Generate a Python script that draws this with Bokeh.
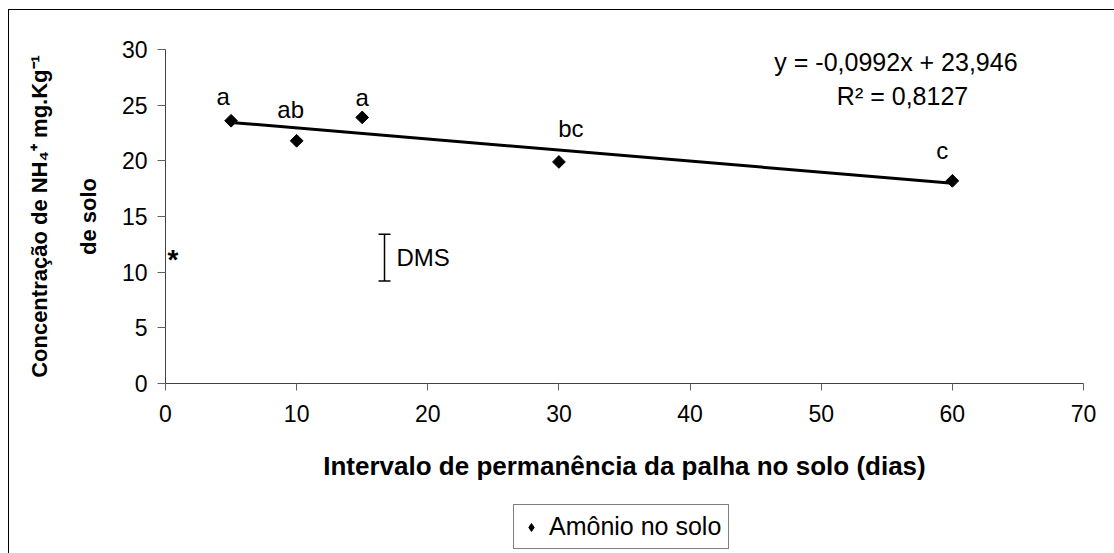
import numpy as np
from bokeh.plotting import figure
from bokeh.layouts import column, row
from bokeh.models import (Range1d, FixedTicker, Label, Legend, LegendItem, Whisker,
                          ColumnDataSource, TeeHead, Title)
from bokeh.embed import file_html
from bokeh.resources import INLINE
from bokeh.core.properties import value

# Soil ammonium after straw residence interval
days = [5, 10, 15, 30, 60]
ammonium = [23.6, 21.8, 23.9, 19.9, 18.2]
letters = ["a", "ab", "a", "bc", "c"]

# Linear fit reported for the series
slope = -0.0992
intercept = 23.946
r_squared = 0.8127

# Least significant difference bar
dms_day = 16.7
dms_low = 9.2
dms_high = 13.4

x_ticks = [0, 10, 20, 30, 40, 50, 60, 70]
y_ticks = [0, 5, 10, 15, 20, 25, 30]

FONT = "Liberation Sans"
W, H = 1114, 553
OFF_X, OFF_Y = 9, 10           # content starts inside a 1 px frame line at x=8, y=9
BOX_L, BOX_R, BOX_T, BOX_B = 165, 1083, 49, 383   # page pixels of the data box
MAIN_H = 483
KEY_H = H - OFF_Y - MAIN_H

# ---------------- main plot ----------------
p = figure(width=W - OFF_X, height=MAIN_H, x_range=Range1d(0, 70), y_range=Range1d(0, 30),
           output_backend="svg", toolbar_location=None,
           min_border_left=BOX_L - OFF_X, min_border_right=W - BOX_R,
           min_border_top=BOX_T - OFF_Y, min_border_bottom=OFF_Y + MAIN_H - BOX_B)
p.xgrid.visible = False
p.ygrid.visible = False
p.outline_line_color = None
p.background_fill_color = "white"
p.border_fill_color = "white"

for ax in (p.xaxis[0], p.yaxis[0]):
    ax.axis_line_color = "#404040"
    ax.axis_line_width = 1
    ax.major_tick_line_color = "#606060"
    ax.major_tick_in = 0
    ax.minor_tick_line_color = None
    ax.major_label_text_font = FONT
    ax.major_label_text_font_size = "23px"
    ax.major_label_text_color = "black"
p.xaxis.ticker = FixedTicker(ticks=x_ticks)
p.yaxis.ticker = FixedTicker(ticks=y_ticks)
p.xaxis.major_tick_out = 7
p.yaxis.major_tick_out = 8
p.xaxis.major_label_standoff = 14
p.yaxis.major_label_standoff = 10

p.xaxis.axis_label = "Intervalo de permanência da palha no solo (dias)"
p.xaxis.axis_label_text_font = FONT
p.xaxis.axis_label_text_font_style = "bold"
p.xaxis.axis_label_text_font_size = "26px"
p.xaxis.axis_label_text_color = "black"
p.xaxis.axis_label_standoff = 26

# y-axis title, two lines (inner line added first)
p.add_layout(Title(text="de solo", align="center", standoff=36, offset=7,
                   text_font=FONT, text_font_style="bold", text_font_size="22px",
                   text_color="black"), "left")
p.add_layout(Title(text="Concentração de NH₄⁺ mg.Kg⁻¹", align="center", standoff=8,
                   offset=28, text_font=FONT, text_font_style="bold",
                   text_font_size="22px", text_color="black"), "left")

# trend line from the fitted equation
xs = np.array([days[0], days[-1]], dtype=float)
p.line(xs, slope * xs + intercept, line_color="black", line_width=3)

p.scatter(days, ammonium, marker="square", angle=np.pi / 4, size=9,
          fill_color="black", line_color="black")

# significance letters
p.text(x=days, y=ammonium, text=letters,
       x_offset=[-8, -6, 0, 12, -10], y_offset=[-24, -31, -20, -33, -30],
       text_align="center", text_baseline="middle",
       text_font=value(FONT), text_font_size="24px", text_color="black")

# DMS bar
dms_src = ColumnDataSource(dict(base=[dms_day], lower=[dms_low], upper=[dms_high]))
p.add_layout(Whisker(source=dms_src, base="base", lower="lower", upper="upper",
                     dimension="height", line_color="black", line_width=1.5,
                     upper_head=TeeHead(size=12, line_color="black", line_width=1.5),
                     lower_head=TeeHead(size=12, line_color="black", line_width=1.5)))
p.add_layout(Label(x=dms_day, y=(dms_low + dms_high) / 2, text="DMS", x_offset=12,
                   text_baseline="middle", text_font=FONT, text_font_size="24px",
                   text_color="black"))
p.add_layout(Label(x=0, y=(dms_low + dms_high) / 2, text="*", x_offset=2, y_offset=-2,
                   text_baseline="middle", text_font=FONT, text_font_style="bold",
                   text_font_size="28px", text_color="black"))

# regression equation
eq_text = f"y = {slope:.4f}x + {intercept:.3f}".replace(".", ",")
r2_text = f"R² = {r_squared:.4f}".replace(".", ",")
p.add_layout(Label(x=55.7, y=28.9, text=eq_text, text_align="center", text_baseline="middle",
                   text_font=FONT, text_font_size="25px", text_color="black"))
p.add_layout(Label(x=56.2, y=25.8, text=r2_text, text_align="center", text_baseline="middle",
                   text_font=FONT, text_font_size="25px", text_color="black"))

# ---------------- legend strip (data units = page pixels) ----------------
key = figure(width=W - OFF_X, height=KEY_H,
             x_range=Range1d(OFF_X, W), y_range=Range1d(H, H - KEY_H),
             x_axis_type=None, y_axis_type=None, output_backend="svg",
             toolbar_location=None, min_border=0)
key.outline_line_color = None
key.background_fill_color = "white"
key.border_fill_color = "white"
# the series again, only as the legend's key (its points fall outside this strip)
key_pts = key.scatter(days, ammonium, marker="diamond", size=14,
                      fill_color="black", line_color="black")
legend = Legend(items=[LegendItem(label="Amônio no solo", renderers=[key_pts])],
                location=(513 - OFF_X, H - 549), orientation="vertical",
                label_text_font=FONT, label_text_font_size="25px",
                label_text_color="black", border_line_color="black", border_line_width=1,
                background_fill_color="white", background_fill_alpha=1,
                padding=7, spacing=0, margin=0, glyph_width=20, glyph_height=20,
                label_standoff=8)
key.add_layout(legend)

layout = column(row(p), key,
                styles={"margin-left": "8px", "margin-top": "9px",
                        "border-left": "1px solid black", "border-top": "1px solid black"})
open("out.html", "w").write(file_html(layout, INLINE))
